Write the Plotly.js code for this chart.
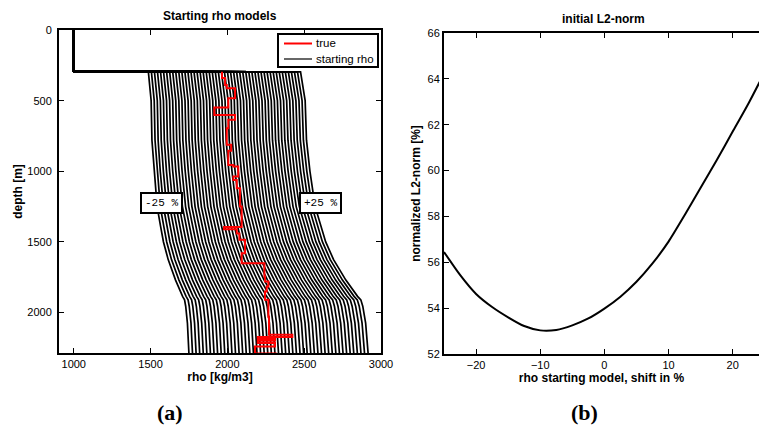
<!DOCTYPE html>
<html>
<head>
<meta charset="utf-8">
<script src="https://cdn.plot.ly/plotly-3.0.1.min.js"></script>
<style>html,body{margin:0;padding:0;background:#fff;}#chart{width:759px;height:425px;}</style>
</head>
<body>
<div id="chart"></div>
<script>
// ---- Data ----
// water layer of every starting model
const waterDepth = [0, 293];
const waterRho = [1000, 1000];
// unshifted (0 %) starting-model profile below the water layer
const baseDepth = [297, 500, 780, 1000, 1250, 1390, 1500, 1625, 1770, 1885, 1910, 1955, 2000, 2075, 2290];
const baseRho   = [1981, 2005, 2012, 2030, 2057, 2087, 2112, 2153, 2217, 2278, 2295, 2305, 2310, 2320, 2333];
// shifts of the starting models, in %
const shiftPct = [-25,-24,-23,-22,-21,-20,-19,-18,-17,-16,-15,-14,-13,-12,-11,-10,-9,-8,-7,-6,-5,-4,-3,-2,-1,0,
                  1,2,3,4,5,6,7,8,9,10,11,12,13,14,15,16,17,18,19,20,21,22,23,24,25];
// true model: layer tops and densities
const trueTop = [295, 340, 389, 412, 483, 549, 601, 636, 695, 813, 855, 955, 966, 1037, 1061, 1120, 1250,
                 1395, 1410, 1440, 1485, 1580, 1650, 1744, 1780, 1815, 1850, 1909, 2030, 2157, 2172, 2186, 2200, 2215, 2240];
const trueRho = [1965, 1985, 1996, 2050, 2006, 1915, 2050, 2006, 1996, 2025, 2006, 2039, 2071, 2039, 2061, 2082, 2093,
                 1978, 2061, 2078, 2115, 2093, 2241, 2245, 2267, 2256, 2245, 2267, 2271, 2423, 2198, 2310, 2198, 2310, 2180, 2321];
const trueBottom = 2290;
// initial L2-norm vs shift of the starting model
const normShift = [-25, -22.5, -20, -17.5, -15, -12.5, -10, -7.5, -5, -2.5, 0, 2.5, 5, 7.5, 10, 12.5, 15, 17.5, 20, 22.5, 25];
const normValue = [56.45, 55.45, 54.62, 54.05, 53.6, 53.22, 53.03, 53.05, 53.25, 53.55, 53.98, 54.5, 55.15, 55.95, 56.9, 58.05, 59.25, 60.45, 61.7, 62.95, 64.3];
// legend entries
const legendNames = ['true', 'starting rho'];
const legendColors = ['#ff0000', '#000000'];

// ---- Traces ----
const traces = [];
shiftPct.forEach(function(p){
  const xs = waterRho.concat(baseRho.map(function(r){ return r * (1 + p/100); }));
  const ys = waterDepth.concat(baseDepth);
  traces.push({
    x: xs, y: ys, type: 'scatter', mode: 'lines',
    line: {color: legendColors[1], width: 1.7},
    name: legendNames[1], showlegend: false,
    xaxis: 'x', yaxis: 'y', hoverinfo: 'skip'
  });
});
traces.push({
  x: trueRho.concat([trueRho[trueRho.length-1]]),
  y: trueTop.concat([trueBottom]),
  type: 'scatter', mode: 'lines', line: {color: legendColors[0], width: 2, shape: 'vh'},
  name: legendNames[0], showlegend: false, xaxis: 'x', yaxis: 'y'
});
traces.push({
  x: normShift, y: normValue, type: 'scatter', mode: 'lines',
  line: {color: '#000', width: 2, shape: 'spline', smoothing: 0.6},
  showlegend: false, xaxis: 'x2', yaxis: 'y2'
});

const FONT = 'Liberation Sans, Arial, Helvetica, sans-serif';
const tickFont = {family: FONT, size: 11, color: '#000'};
const titleFont = {family: FONT, size: 12, color: '#000'};
const axCommon = {showgrid: false, zeroline: false, showline: true, linecolor: '#000', linewidth: 2,
  ticks: 'inside', ticklen: 5, tickwidth: 1, tickcolor: '#000', tickfont: tickFont};

const W = 759, H = 425;
// legend box (drawn with shapes, paper pixels)
const LG = {x0: 278, x1: 378, y0: 34, y1: 67, lineX0: 284, lineX1: 312, textX: 314, rows: [43.5, 59]};
const shapes = [
  {type: 'rect', xref: 'paper', yref: 'paper', x0: LG.x0/W, x1: LG.x1/W, y0: 1 - LG.y1/H, y1: 1 - LG.y0/H,
   fillcolor: '#fff', line: {color: '#000', width: 2}, layer: 'above'}
];
const annotations = [
  {text: '<b>Starting rho models</b>', xref: 'paper', yref: 'paper', x: 220/W, y: 1 - 16/H,
   xanchor: 'center', yanchor: 'middle', showarrow: false, font: titleFont},
  {text: '<b>initial L2-norm</b>', xref: 'paper', yref: 'paper', x: 603.5/W, y: 1 - 19/H,
   xanchor: 'center', yanchor: 'middle', showarrow: false, font: titleFont},
  {text: '-25 %', xref: 'x', yref: 'y', x: 1571, y: 1227, showarrow: false,
   font: {family: 'Liberation Mono, DejaVu Sans Mono, monospace', size: 11, color: '#000'},
   bgcolor: '#fff', bordercolor: '#000', borderwidth: 2, borderpad: 3},
  {text: '+25 %', xref: 'x', yref: 'y', x: 2606, y: 1227, showarrow: false,
   font: {family: 'Liberation Mono, DejaVu Sans Mono, monospace', size: 11, color: '#000'},
   bgcolor: '#fff', bordercolor: '#000', borderwidth: 2, borderpad: 3},
  {text: '<b>(a)</b>', xref: 'paper', yref: 'paper', x: 169.7/W, y: 1 - 412.5/H,
   xanchor: 'center', yanchor: 'middle', showarrow: false,
   font: {family: 'Liberation Serif, Times New Roman, serif', size: 22, color: '#000'}},
  {text: '<b>(b)</b>', xref: 'paper', yref: 'paper', x: 584.7/W, y: 1 - 412.5/H,
   xanchor: 'center', yanchor: 'middle', showarrow: false,
   font: {family: 'Liberation Serif, Times New Roman, serif', size: 22, color: '#000'}}
];
legendNames.forEach(function(name, i){
  shapes.push({type: 'line', xref: 'paper', yref: 'paper', x0: LG.lineX0/W, x1: LG.lineX1/W,
    y0: 1 - LG.rows[i]/H, y1: 1 - LG.rows[i]/H, line: {color: legendColors[i], width: i === 0 ? 2 : 1.2}, layer: 'above'});
  annotations.push({text: name, xref: 'paper', yref: 'paper', x: LG.textX/W, y: 1 - LG.rows[i]/H,
    xanchor: 'left', yanchor: 'middle', showarrow: false, font: {family: FONT, size: 11.5, color: '#000'}});
});

const layout = {
  width: W, height: H,
  margin: {l: 0, r: 0, t: 0, b: 0},
  paper_bgcolor: '#fff', plot_bgcolor: '#fff',
  font: {family: FONT, color: '#000'},
  showlegend: false,
  xaxis: Object.assign({}, axCommon, {
    domain: [59/W, 381/W], range: [904, 3000], tickvals: [1000, 1500, 2000, 2500, 3000], mirror: 'ticks',
    anchor: 'y', title: {text: '<b>rho [kg/m3]</b>', font: titleFont, standoff: 3}
  }),
  yaxis: Object.assign({}, axCommon, {
    domain: [1 - 353/H, 1 - 30/H], range: [2286, 0], tickvals: [0, 500, 1000, 1500, 2000], mirror: 'ticks',
    anchor: 'x', ticklabelstandoff: 3, title: {text: '<b>depth [m]</b>', font: titleFont, standoff: 2}
  }),
  xaxis2: Object.assign({}, axCommon, {
    domain: [444/W, 1], range: [-25, 24.1], tickvals: [-20, -10, 0, 10, 20], mirror: 'ticks',
    anchor: 'y2', title: {text: '<b>rho starting model, shift in %</b>', font: titleFont, standoff: 3}
  }),
  yaxis2: Object.assign({}, axCommon, {
    domain: [1 - 354/H, 1 - 33/H], range: [52, 66], tickvals: [52, 54, 56, 58, 60, 62, 64, 66], mirror: false,
    anchor: 'x2', ticklabelstandoff: 0, title: {text: '<b>normalized L2-norm [%]</b>', font: titleFont, standoff: 4}
  }),
  shapes: shapes,
  annotations: annotations
};

Plotly.newPlot('chart', traces, layout, {displayModeBar: false, staticPlot: true});
</script>
</body>
</html>
